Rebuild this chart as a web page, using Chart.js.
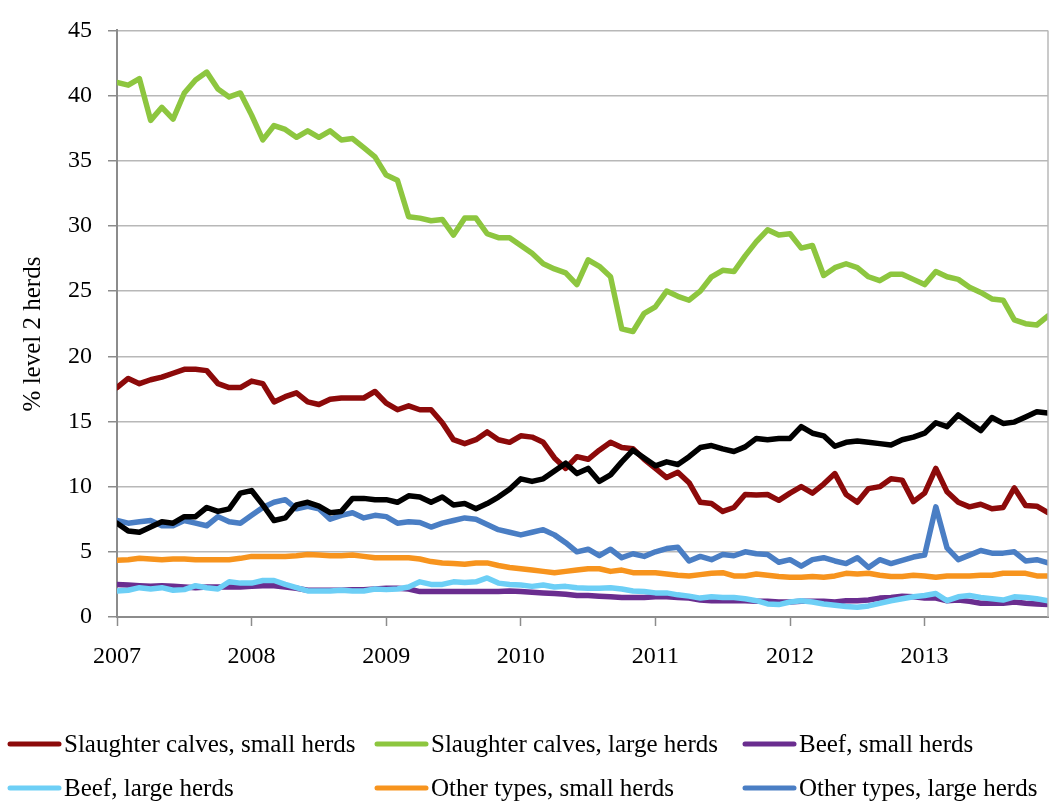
<!DOCTYPE html>
<html>
<head>
<meta charset="utf-8">
<script src="https://cdn.jsdelivr.net/npm/chart.js@4"></script>
<style>
  body { margin: 0; background: #fff; }
  canvas { display: block; }
</style>
</head>
<body>
<canvas id="herdChart" width="1050" height="805"></canvas>
<script>
// months Jan 2007 .. Dec 2013, as index 0..83
const startYear = 2007;
const months = [];
for (let y = 0; y < 7; y++) {
    for (let m = 0; m < 12; m++) months.push(y * 12 + m);
}

const slaughterSmall = [
    17.6, 18.3, 17.9, 18.2, 18.4, 18.7, 19.0, 19.0, 18.9, 17.9, 17.6, 17.6,
    18.1, 17.9, 16.5, 16.9, 17.2, 16.5, 16.3, 16.7, 16.8, 16.8, 16.8, 17.3,
    16.4, 15.9, 16.2, 15.9, 15.9, 14.9, 13.6, 13.3, 13.6, 14.2, 13.6, 13.4,
    13.9, 13.8, 13.4, 12.2, 11.4, 12.3, 12.1, 12.8, 13.4, 13.0, 12.9, 12.1,
    11.4, 10.7, 11.1, 10.3, 8.8, 8.7, 8.1, 8.4, 9.4, 9.35, 9.4, 8.95,
    9.5, 10.0, 9.5, 10.2, 11.0, 9.4, 8.8, 9.85, 10.0, 10.6, 10.5, 8.85,
    9.5, 11.4, 9.6, 8.8, 8.45, 8.65, 8.3, 8.4, 9.9, 8.55, 8.5, 8.0
];
const slaughterLarge = [
    41.0, 40.8, 41.3, 38.1, 39.1, 38.2, 40.2, 41.2, 41.8, 40.5, 39.9, 40.2,
    38.5, 36.6, 37.7, 37.4, 36.8, 37.3, 36.8, 37.3, 36.6, 36.7, 36.0, 35.3,
    33.9, 33.5, 30.7, 30.6, 30.4, 30.5, 29.3, 30.6, 30.6, 29.4, 29.1, 29.1,
    28.5, 27.9, 27.1, 26.7, 26.4, 25.5, 27.4, 26.9, 26.1, 22.1, 21.9, 23.3,
    23.8, 25.0, 24.6, 24.3, 25.0, 26.1, 26.6, 26.5, 27.7, 28.8, 29.7, 29.3,
    29.4, 28.3, 28.5, 26.2, 26.8, 27.1, 26.8, 26.1, 25.8, 26.3, 26.3, 25.9,
    25.5, 26.5, 26.1, 25.9, 25.3, 24.9, 24.4, 24.3, 22.8, 22.5, 22.4, 23.1
];
const beefSmall = [
    2.5, 2.45, 2.4, 2.35, 2.4, 2.35, 2.3, 2.25, 2.3, 2.3, 2.3, 2.3,
    2.35, 2.4, 2.4, 2.3, 2.2, 2.05, 2.05, 2.05, 2.05, 2.1, 2.1, 2.15,
    2.2, 2.2, 2.15, 1.95, 1.95, 1.95, 1.95, 1.95, 1.95, 1.95, 1.95, 2.0,
    1.95, 1.9, 1.85, 1.8, 1.75, 1.65, 1.65, 1.6, 1.55, 1.5, 1.5, 1.5,
    1.55, 1.55, 1.5, 1.45, 1.3, 1.25, 1.25, 1.25, 1.25, 1.2, 1.2, 1.15,
    1.15, 1.2, 1.2, 1.2, 1.15, 1.25, 1.25, 1.3, 1.45, 1.5, 1.6, 1.55,
    1.45, 1.45, 1.25, 1.3, 1.2, 1.05, 1.05, 1.05, 1.15, 1.05, 1.0, 0.95
];
const beefLarge = [
    2.0, 2.05, 2.25, 2.15, 2.25, 2.05, 2.1, 2.4, 2.25, 2.15, 2.7, 2.6,
    2.6, 2.8, 2.8, 2.5, 2.25, 2.0, 2.0, 2.0, 2.05, 2.0, 2.0, 2.15,
    2.1, 2.15, 2.3, 2.7, 2.5, 2.5, 2.7, 2.65, 2.7, 3.0, 2.6, 2.5,
    2.45, 2.35, 2.45, 2.3, 2.35, 2.25, 2.2, 2.2, 2.25, 2.15, 2.0, 1.95,
    1.85, 1.85, 1.7, 1.6, 1.45, 1.55, 1.5, 1.5, 1.4, 1.25, 1.0, 0.95,
    1.15, 1.25, 1.15, 1.0, 0.9, 0.8, 0.75, 0.85, 1.05, 1.25, 1.4, 1.55,
    1.65, 1.8, 1.25, 1.55, 1.65, 1.5, 1.4, 1.3, 1.55, 1.5, 1.4, 1.25
];
const otherSmall = [
    4.35, 4.4, 4.5, 4.45, 4.4, 4.45, 4.45, 4.4, 4.4, 4.4, 4.4, 4.5,
    4.65, 4.65, 4.65, 4.65, 4.7, 4.8, 4.75, 4.7, 4.7, 4.75, 4.65, 4.55,
    4.55, 4.55, 4.55, 4.45, 4.25, 4.15, 4.1, 4.05, 4.15, 4.15, 3.95, 3.8,
    3.7, 3.6, 3.5, 3.4, 3.5, 3.6, 3.7, 3.7, 3.5, 3.6, 3.4, 3.4,
    3.4, 3.3, 3.2, 3.15, 3.25, 3.35, 3.4, 3.15, 3.15, 3.3, 3.2, 3.1,
    3.05, 3.05, 3.1, 3.05, 3.15, 3.35, 3.3, 3.35, 3.2, 3.1, 3.1, 3.2,
    3.15, 3.05, 3.15, 3.15, 3.15, 3.2, 3.2, 3.35, 3.35, 3.35, 3.15, 3.15
];
const otherLarge = [
    7.4, 7.2, 7.3, 7.4, 7.0, 7.0, 7.4, 7.2, 7.0, 7.7, 7.3, 7.2,
    7.8, 8.4, 8.8, 9.0, 8.3, 8.5, 8.3, 7.5, 7.8, 8.0, 7.6, 7.8,
    7.7, 7.2, 7.3, 7.25, 6.9, 7.2, 7.4, 7.6, 7.5, 7.1, 6.7, 6.5,
    6.3, 6.5, 6.7, 6.3, 5.7, 5.0, 5.2, 4.7, 5.2, 4.55, 4.85, 4.65,
    5.0, 5.25, 5.35, 4.3, 4.65, 4.4, 4.8, 4.7, 5.0, 4.85, 4.8, 4.2,
    4.4, 3.9, 4.4, 4.55, 4.3, 4.1, 4.55, 3.8, 4.4, 4.1, 4.35, 4.6,
    4.75, 8.45, 5.3, 4.4, 4.75, 5.1, 4.9, 4.9, 5.0, 4.3, 4.4, 4.15
];
// black line, not named in the legend
const allHerds = [
    7.2, 6.6, 6.5, 6.9, 7.3, 7.2, 7.7, 7.7, 8.4, 8.1, 8.3, 9.5,
    9.7, 8.6, 7.4, 7.6, 8.6, 8.8, 8.5, 8.0, 8.1, 9.1, 9.1, 9.0,
    9.0, 8.8, 9.3, 9.2, 8.8, 9.2, 8.6, 8.7, 8.3, 8.7, 9.2, 9.8,
    10.6, 10.4, 10.6, 11.2, 11.8, 11.0, 11.4, 10.4, 10.9, 11.9, 12.8, 12.2,
    11.6, 11.9, 11.7, 12.3, 13.0, 13.15, 12.9, 12.7, 13.05, 13.7, 13.6, 13.7,
    13.7, 14.6, 14.1, 13.9, 13.1, 13.4, 13.5, 13.4, 13.3, 13.2, 13.6, 13.8,
    14.1, 14.9, 14.6, 15.5, 14.9, 14.3, 15.3, 14.85, 14.95, 15.35, 15.75, 15.65
];

const seriesNames = [
    "Slaughter calves, small herds", "Slaughter calves, large herds", "Beef, small herds",
    "Beef, large herds", "Other types, small herds", "Other types, large herds", "All herds"
];
const seriesData = [slaughterSmall, slaughterLarge, beefSmall, beefLarge, otherSmall, otherLarge, allHerds];
const seriesColors = ["#8c0a0a", "#8dc63f", "#6a2d8f", "#6dcff6", "#f7941e", "#4a7ec4", "#000000"];

Chart.defaults.font.family = '"Liberation Serif", "DejaVu Serif", serif';
Chart.defaults.color = "#000";

const gray = "#8c8c8c";

// legend in two rows of three, plus the y title and right frame line
const extras = {
    id: "extras",
    afterDraw(chart) {
        const c = chart.ctx;
        const area = chart.chartArea;
        c.save();
        c.strokeStyle = "#b8b8b8";
        c.lineWidth = 1.5;
        c.beginPath();
        c.moveTo(area.right, area.top);
        c.lineTo(area.right, area.bottom);
        c.stroke();

        c.translate(33, 334);
        c.rotate(-Math.PI / 2);
        c.font = '25px "Liberation Serif"';
        c.textAlign = "center";
        c.textBaseline = "middle";
        c.fillStyle = "#000";
        c.fillText("% level 2 herds", 0, 0);
        c.restore();

        const cols = [7, 374, 742];
        const rows = [744, 788];
        c.save();
        c.font = '25px "Liberation Serif"';
        c.textBaseline = "middle";
        c.textAlign = "left";
        let n = 0;
        chart.data.datasets.forEach(ds => {
            if (!ds.inLegend) return;
            const x = cols[n % 3];
            const y = rows[Math.floor(n / 3)];
            c.strokeStyle = ds.borderColor;
            c.lineWidth = 5;
            c.lineCap = "round";
            c.beginPath();
            c.moveTo(x + 3, y);
            c.lineTo(x + 52, y);
            c.stroke();
            c.fillStyle = "#000";
            c.fillText(ds.label, x + 57, y + 1);
            n++;
        });
        c.restore();
    }
};

document.addEventListener("DOMContentLoaded", () => {
    const ctx = document.getElementById("herdChart").getContext("2d");

    const datasets = seriesData.map((vals, i) => ({
        label: seriesNames[i],
        data: vals,
        borderColor: seriesColors[i],
        backgroundColor: seriesColors[i],
        borderWidth: 5.5,
        pointRadius: 0,
        tension: 0,
        borderJoinStyle: "round",
        borderCapStyle: "round",
        inLegend: i < 6,
        order: 10 - i // later series on top
    }));

    new Chart(ctx, {
        type: "line",
        data: { labels: months, datasets: datasets },
        plugins: [extras],
        options: {
            responsive: false,
            animation: false,
            layout: { padding: { left: 0, right: 2, top: 21, bottom: 110 } },
            plugins: {
                legend: { display: false },
                tooltip: { enabled: false }
            },
            scales: {
                x: {
                    type: "linear",
                    min: 0,
                    max: 83,
                    afterFit: s => { s.height = 78; },
                    ticks: {
                        stepSize: 12,
                        includeBounds: false,
                        padding: 16,
                        font: { size: 24 },
                        callback: v => startYear + v / 12
                    },
                    grid: { drawOnChartArea: false, tickLength: 9, tickColor: gray, tickWidth: 1.5 },
                    border: { color: gray, width: 2 }
                },
                y: {
                    min: 0,
                    max: 45,
                    afterFit: s => { s.width = 117; },
                    ticks: { stepSize: 5, padding: 16, font: { size: 24 } },
                    grid: { color: "#b8b8b8", lineWidth: 1.5, tickLength: 9, tickColor: gray, tickWidth: 1.5 },
                    border: { color: gray, width: 2 }
                }
            }
        }
    });
});
</script>
</body>
</html>
